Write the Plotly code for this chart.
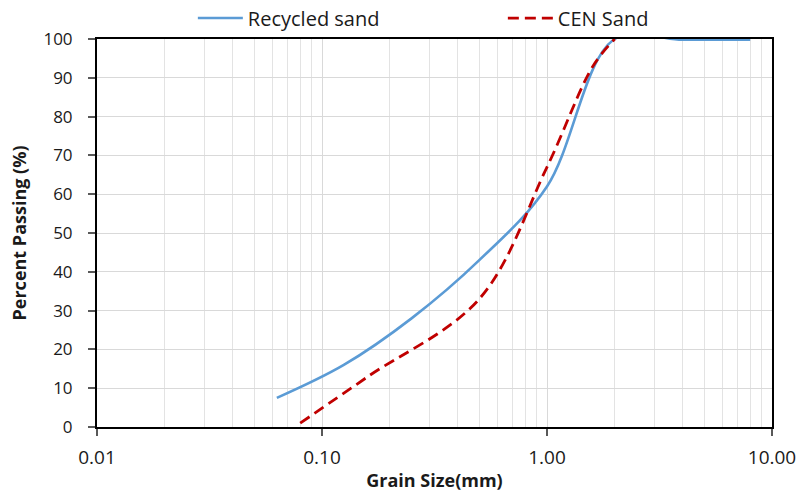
import plotly.graph_objects as go

# Recycled sand grading (sieve size mm, % passing)
recycled_size = [0.063, 0.125, 0.25, 0.5, 1.0, 2.0, 4.0, 8.0]
recycled_pass = [7.5, 16, 28, 43, 62, 100, 99.8, 99.8]

# CEN standard sand grading
cen_size = [0.08, 0.16, 0.5, 1.0, 1.6, 2.0]
cen_pass = [1, 13, 33, 67, 93, 100]

x_tickvals = [0.01, 0.1, 1, 10]
x_ticktext = ["0.01", "0.10", "1.00", "10.00"]
y_tickvals = list(range(0, 101, 10))

FONT = "'Open Sans', 'Noto Sans', sans-serif"
TXT = "#1a1a1a"

fig = go.Figure()
fig.add_trace(go.Scatter(
    x=recycled_size, y=recycled_pass, mode="lines", name="Recycled sand",
    line=dict(color="#5B9BD5", width=2.6, shape="spline", smoothing=1.0),
))
fig.add_trace(go.Scatter(
    x=cen_size, y=cen_pass, mode="lines", name="CEN Sand",
    line=dict(color="#C00000", width=2.8, dash="11px,6px", shape="spline", smoothing=1.0),
))

fig.update_layout(
    width=801, height=493,
    margin=dict(l=97, r=29, t=39, b=66, autoexpand=False),
    paper_bgcolor="white", plot_bgcolor="white",
    font=dict(family=FONT, size=16, color=TXT),
    showlegend=True,
    legend=dict(orientation="h", x=0.142, xanchor="left", y=1.054, yanchor="middle",
                font=dict(family=FONT, size=20, color=TXT), entrywidth=250,
                itemwidth=45, bgcolor="rgba(0,0,0,0)"),
)
fig.update_xaxes(
    type="log", range=[-2, 1],
    tickvals=x_tickvals, ticktext=x_ticktext,
    ticks="outside", ticklen=7, tickcolor="#595959", tickwidth=1.5,
    ticklabelstandoff=5,
    showline=True, linecolor="black", linewidth=2, mirror=True,
    showgrid=True, gridcolor="#d9d9d9", gridwidth=1,
    minor=dict(showgrid=True, gridcolor="#e3e3e3", gridwidth=1, dtick="D1", ticks=""),
    tickfont=dict(size=19, family=FONT, color=TXT),
    title=dict(text="<b>Grain Size(mm)</b>", font=dict(size=18, family=FONT, color=TXT), standoff=6),
    zeroline=False,
)
fig.update_yaxes(
    range=[0, 100], tickvals=y_tickvals,
    ticks="outside", ticklen=7, tickcolor="#595959", tickwidth=1.5,
    ticklabelstandoff=12,
    showline=True, linecolor="black", linewidth=2, mirror=True,
    showgrid=True, gridcolor="#d9d9d9", gridwidth=1,
    tickfont=dict(size=17, family=FONT, color=TXT),
    title=dict(text="<b>Percent Passing (%)</b>", font=dict(size=18, family=FONT, color=TXT), standoff=12),
    zeroline=False,
)

# remove the default 8px page margin so the figure sits at the window's corner
fig.write_html("out.html", config={"displayModeBar": False},
               post_script="document.body.style.margin='0';")
